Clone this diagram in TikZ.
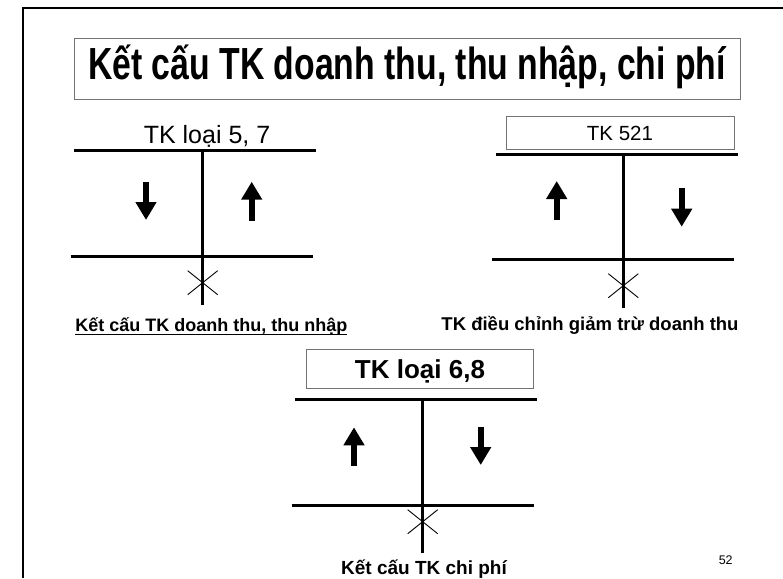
\documentclass[tikz,border=0pt]{standalone}
\usepackage{fontspec}
\setmainfont{Liberation Sans}
\newfontfamily\narrowfont[FakeStretch=0.75]{Liberation Sans}
\usetikzlibrary{arrows.meta,positioning,calc}

\begin{document}
\begin{tikzpicture}[x=1pt,y=-1pt,
    tline/.style={line width=3pt},
    cross/.style={line width=0.9pt},
    blockarrow/.style={line width=6pt,-{Triangle[length=18pt,width=20pt]}},
    titlebox/.style={draw=black!55,line width=0.8pt},
    lbl/.style={inner sep=0pt,anchor=base}]
    \useasboundingbox (0,0) rectangle (783,578);

    % Slide frame
    \draw[line width=2.2pt] (22.7,578) -- (22.7,8) -- (783,8);

    % Title
    \draw[titlebox] (74,38) rectangle (740.7,99);
    \node[lbl] (title) at (407,79.5) {\narrowfont\bfseries\fontsize{45}{50}\selectfont Kết cấu TK doanh thu, thu nhập, chi phí};

    % TK loai 5, 7
    \node[lbl] (tk57) at (207,143.3) {\fontsize{25}{28}\selectfont TK loại 5, 7};
    \draw[tline] (74,150.7) -- (316,150.7);
    \draw[tline] (202.7,150.7) -- (202.7,305);
    \draw[tline] (70.7,256) -- (313,256);
    \draw[blockarrow] (146,181.7) -- (146,220);
    \draw[blockarrow] (251.7,220.7) -- (251.7,181.7);
    \draw[cross] (187.7,270.7) -- (217.7,294.7);
    \draw[cross] (187.7,294.7) -- (217.7,270.7);
    \node[lbl] (lblA) at (211.3,331.7) {\bfseries\fontsize{18}{20}\selectfont Kết cấu TK doanh thu, thu nhập};
    \draw[line width=1pt] ([yshift=-2.6pt]lblA.base west) -- ([yshift=-2.6pt]lblA.base east);

    % TK 521
    \draw[titlebox] (506,116) rectangle (734,149);
    \node[lbl] (tk521) at (620,140.7) {\fontsize{20.5}{23}\selectfont TK 521};
    \draw[tline] (496,154) -- (738,154);
    \draw[tline] (623.3,154) -- (623.3,308);
    \draw[tline] (492.3,259.3) -- (734,259.3);
    \draw[blockarrow] (556.7,220) -- (556.7,181);
    \draw[blockarrow] (681.7,188) -- (681.7,226.7);
    \draw[cross] (608.3,273.7) -- (638.3,297.7);
    \draw[cross] (608.3,297.7) -- (638.3,273.7);
    \node[lbl] (lblB) at (590,330) {\bfseries\fontsize{18.5}{20}\selectfont TK điều chỉnh giảm trừ doanh thu};

    % TK loai 6,8
    \draw[titlebox] (306,349) rectangle (533.3,388.3);
    \node[lbl] (tk68) at (420,378.3) {\bfseries\fontsize{26}{29}\selectfont TK loại 6,8};
    \draw[tline] (295,399.3) -- (536.7,399.3);
    \draw[tline] (422.7,399.3) -- (422.7,553.3);
    \draw[tline] (291.7,505) -- (534,505);
    \draw[blockarrow] (354,466) -- (354,427.3);
    \draw[blockarrow] (480.7,427.3) -- (480.7,465);
    \draw[cross] (407.7,509.7) -- (437.7,533.7);
    \draw[cross] (407.7,533.7) -- (437.7,509.7);
    \node[lbl] (lblC) at (424,574) {\bfseries\fontsize{19}{21}\selectfont Kết cấu TK chi phí};

    % page number
    \node[lbl] (page) at (725.7,564) {\fontsize{12.5}{14}\selectfont 52};
\end{tikzpicture}
\end{document}
